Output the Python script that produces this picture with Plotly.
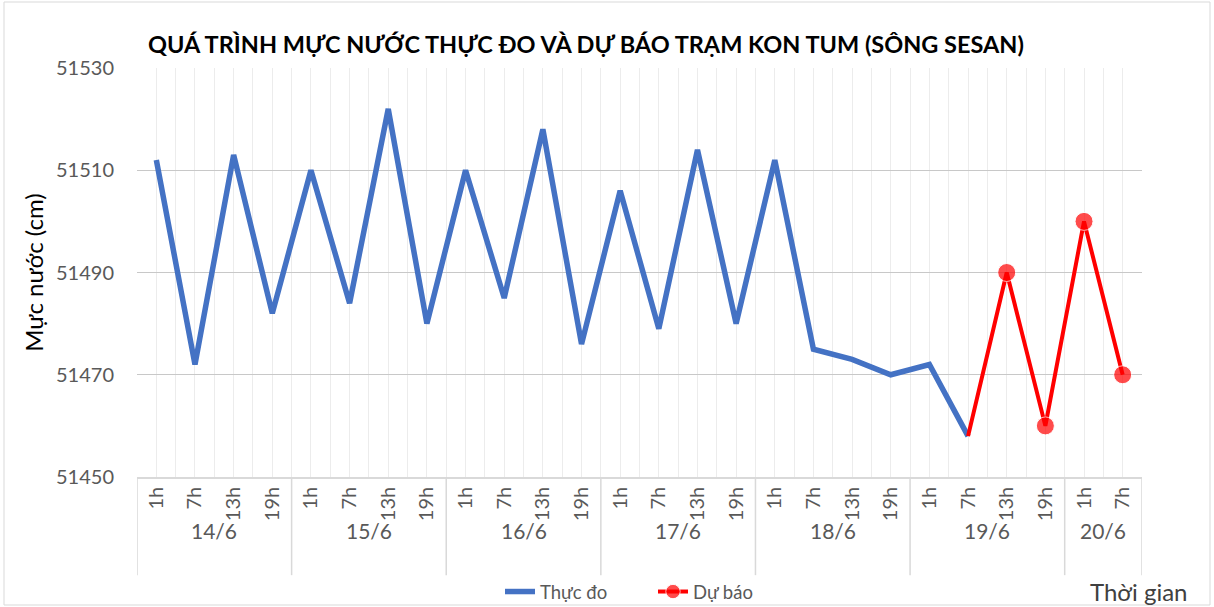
import plotly.graph_objects as go

# ---- data ----
dates = ["14/6", "15/6", "16/6", "17/6", "18/6", "19/6", "20/6"]
hours_per_day = [["1h", "7h", "13h", "19h"]] * 6 + [["1h", "7h"]]
observed = [51512, 51472, 51513, 51482,
            51510, 51484, 51522, 51480,
            51510, 51485, 51518, 51476,
            51506, 51479, 51514, 51480,
            51512, 51475, 51473, 51470,
            51472, 51458]
forecast = [51458, 51490, 51460, 51500, 51470]
forecast_start = 21  # index of 19/6 7h
y_ticks = [51450, 51470, 51490, 51510, 51530]

hour_labels = [h for day in hours_per_day for h in day]
n = len(hour_labels)
idx = list(range(n))
obs_x = idx[:len(observed)]
fc_x = idx[forecast_start:forecast_start + len(forecast)]

FONT = "Lato"
GREY = "#595959"

fig = go.Figure()
fig.add_trace(go.Scatter(
    x=obs_x, y=observed, mode="lines", name="Thực đo",
    line=dict(color="#4472C4", width=5.5)))
fig.add_trace(go.Scatter(
    x=fc_x, y=forecast, mode="lines+markers", name="Dự báo",
    line=dict(color="#FF0000", width=4),
    marker=dict(color="#FF0000", size=[0] + [18] * (len(forecast) - 1))))

# date group labels + dividers
shapes = []
annotations = []
start = 0
bounds = [-0.5]
for d, hrs in zip(dates, hours_per_day):
    end = start + len(hrs)
    annotations.append(dict(x=(start + end - 1) / 2, y=-0.13, xref="x", yref="paper",
                            text=d, showarrow=False, yanchor="middle",
                            font=dict(family=FONT, size=21, color=GREY)))
    bounds.append(end - 0.5)
    start = end
for b in bounds:
    shapes.append(dict(type="line", xref="x", yref="paper", x0=b, x1=b, y0=0, y1=-0.24,
                       line=dict(color="#d9d9d9", width=1.5)))
# outer chart border
shapes.append(dict(type="rect", xref="paper", yref="paper",
                   x0=(4 - 137) / 1005, x1=(1210 - 137) / 1005,
                   y0=(477 - 605) / 409, y1=(477 - 2) / 409,
                   line=dict(color="#d9d9d9", width=1)))

annotations.append(dict(x=1.0 + (1139 - 1142) / 1005, y=-0.28, xref="paper", yref="paper",
                        text="Thời gian", showarrow=False, xanchor="center", yanchor="middle",
                        font=dict(family=FONT, size=24, color="#404040")))

fig.update_layout(
    width=1214, height=607,
    margin=dict(l=137, r=72, t=68, b=130),
    paper_bgcolor="white", plot_bgcolor="white",
    title=dict(text="<b>QUÁ TRÌNH MỰC NƯỚC THỰC ĐO VÀ DỰ BÁO TRẠM KON TUM (SÔNG SESAN)</b>",
               x=(586 - 137) / 1005, xref="paper", xanchor="center",
               y=1 - 45 / 607, yref="container", yanchor="middle",
               font=dict(family=FONT, size=23.5, color="#000000")),
    xaxis=dict(range=[-0.5, n - 0.5], tickmode="array", tickvals=idx, ticktext=hour_labels,
               tickangle=-90, tickfont=dict(family=FONT, size=20, color=GREY),
               showgrid=True, gridcolor="#ececec", gridwidth=1,
               minor=dict(tick0=-0.5, dtick=1, showgrid=True, gridcolor="#ececec", gridwidth=1),
               showline=True, linecolor="#d9d9d9", linewidth=1.5,
               ticks="", zeroline=False, fixedrange=True, automargin=False),
    yaxis=dict(range=[51450, 51530], tickvals=y_ticks, ticktext=[str(v) for v in y_ticks],
               tickfont=dict(family=FONT, size=20, color=GREY),
               showgrid=True, gridcolor="#c8c8c8", gridwidth=1,
               zeroline=False, ticks="", ticklabelstandoff=22, automargin=False,
               fixedrange=True,
               title=dict(text="Mực nước (cm)", font=dict(family=FONT, size=24, color="#000000"),
                          standoff=5)),
    legend=dict(orientation="h", x=(500 - 137) / 1005, xanchor="left",
                y=1 - 592 / 607, yref="container", yanchor="middle",
                entrywidth=108, entrywidthmode="pixels",
                font=dict(family=FONT, size=18.5, color=GREY), bgcolor="rgba(0,0,0,0)"),
    shapes=shapes, annotations=annotations,
)

fig.write_html("out.html", config={"displayModeBar": False},
               post_script="document.body.style.margin='0';document.body.style.overflow='hidden';")
